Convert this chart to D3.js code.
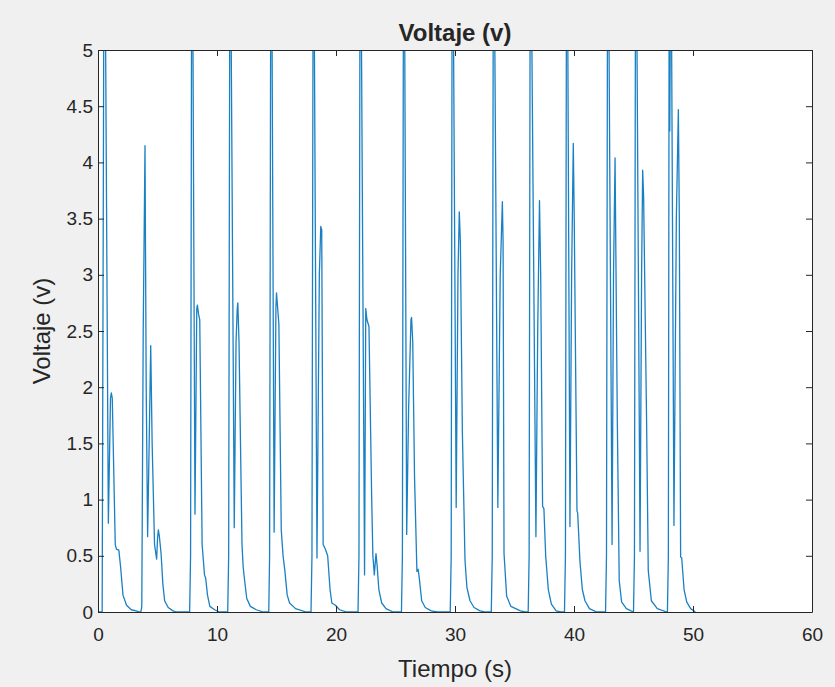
<!DOCTYPE html>
<html>
<head>
<meta charset="utf-8">
<script src="https://cdn.jsdelivr.net/npm/d3@7/dist/d3.min.js"></script>
<style>
  html, body { margin: 0; padding: 0; background: #f0f0f0; }
  svg { display: block; }
  text { font-family: "Liberation Sans", Arial, Helvetica, sans-serif; fill: #262626; }
</style>
</head>
<body>
<svg id="chart" width="835" height="687"></svg>
<script>
// ---- Data (time in s, voltage in v) ----
const pulse1  = [[0,0],[0.35,0],[0.5,5.8],[0.6,5.8],[0.87,0.79],[1.05,1.9],[1.12,1.95],[1.2,1.9],[1.45,0.6],[1.55,0.56],[1.75,0.55],[1.9,0.4],[2.1,0.15],[2.4,0.06],[2.8,0.02],[3.2,0.01],[3.5,0]];
const pulse2  = [[3.6,0],[3.68,0.05],[3.8,2.5],[3.95,4.15],[4.05,2.0],[4.17,0.67],[4.3,1.5],[4.43,2.37],[4.55,1.5],[4.75,0.6],[4.93,0.47],[5.0,0.65],[5.07,0.73],[5.15,0.68],[5.3,0.52],[5.45,0.25],[5.6,0.1],[5.9,0.04],[6.3,0.01],[6.6,0]];
const pulse3  = [[7.7,0],[7.78,0.5],[7.87,5.8],[7.95,5.8],[8.15,0.87],[8.3,2.7],[8.35,2.73],[8.45,2.65],[8.55,2.6],[8.75,0.6],[8.95,0.33],[9.05,0.3],[9.2,0.15],[9.4,0.05],[9.8,0.02],[10.2,0]];
const pulse4  = [[10.9,0],[10.98,0.5],[11.08,5.8],[11.15,5.8],[11.45,0.75],[11.6,2.4],[11.7,2.7],[11.75,2.75],[11.85,2.4],[12.1,0.6],[12.2,0.4],[12.3,0.3],[12.5,0.12],[12.8,0.05],[13.3,0.02],[13.9,0]];
const pulse5  = [[14.35,0],[14.42,0.5],[14.52,5.8],[14.6,5.8],[14.8,0.71],[14.95,2.7],[15.0,2.84],[15.1,2.7],[15.2,2.56],[15.4,0.73],[15.55,0.5],[15.7,0.37],[15.9,0.15],[16.1,0.08],[16.6,0.03],[17.5,0]];
const pulse6  = [[17.9,0],[17.98,0.5],[18.08,5.8],[18.15,5.8],[18.4,0.48],[18.6,3.0],[18.72,3.43],[18.8,3.4],[18.92,0.6],[19.1,0.56],[19.3,0.5],[19.5,0.2],[19.65,0.08],[19.95,0.06],[20.3,0.02],[20.9,0]];
const pulse7  = [[21.85,0],[21.93,0.5],[22.02,5.8],[22.1,5.8],[22.4,0.33],[22.5,2.7],[22.6,2.6],[22.77,2.54],[23.0,1.0],[23.1,0.5],[23.22,0.33],[23.36,0.52],[23.45,0.42],[23.6,0.2],[23.84,0.08],[24.2,0.03],[24.8,0]];
const pulse8  = [[25.5,0],[25.58,0.5],[25.67,5.8],[25.75,5.8],[25.94,0.69],[26.1,1.8],[26.3,2.6],[26.35,2.62],[26.45,2.4],[26.6,1.2],[26.8,0.36],[26.9,0.38],[27.0,0.3],[27.2,0.1],[27.5,0.04],[28.0,0.01],[28.5,0]];
const pulse9  = [[29.6,0],[29.68,0.5],[29.76,5.8],[29.84,5.8],[30.1,0.93],[30.25,3.0],[30.36,3.56],[30.45,3.3],[30.62,1.6],[30.84,0.46],[31.0,0.22],[31.26,0.1],[31.6,0.04],[32.1,0.01],[32.5,0]];
const pulse10 = [[33.05,0],[33.13,0.5],[33.22,5.8],[33.3,5.8],[33.6,0.93],[33.8,3.0],[33.98,3.65],[34.04,3.3],[34.12,0.52],[34.34,0.14],[34.7,0.05],[35.5,0.01],[35.9,0]];
const pulse11 = [[36.15,0],[36.23,0.5],[36.32,5.8],[36.4,5.8],[36.8,0.67],[36.95,2.5],[37.1,3.66],[37.2,3.0],[37.36,0.94],[37.47,0.92],[37.62,0.5],[37.84,0.2],[38.1,0.07],[38.5,0.01],[38.9,0]];
const pulse12 = [[39.2,0],[39.28,0.5],[39.37,5.8],[39.45,5.8],[39.66,0.76],[39.8,3.0],[39.94,4.17],[40.02,3.5],[40.25,0.9],[40.31,0.88],[40.5,0.45],[40.7,0.2],[40.92,0.1],[41.3,0.03],[41.9,0]];
const pulse13 = [[42.65,0],[42.73,0.5],[42.82,5.8],[42.9,5.8],[43.2,0.6],[43.32,3.0],[43.45,4.04],[43.55,2.8],[43.64,1.7],[43.8,0.28],[44.0,0.09],[44.4,0.03],[45.0,0]];
const pulse14 = [[45.0,0],[45.08,0.5],[45.17,5.8],[45.25,5.8],[45.55,0.54],[45.68,3.0],[45.77,3.93],[45.85,3.7],[46.1,1.7],[46.24,0.37],[46.5,0.1],[47.0,0.03],[47.8,0]];
const pulse15 = [[47.85,0],[47.93,0.5],[48.0,5.8],[48.05,4.28],[48.12,5.8],[48.17,5.8],[48.4,0.77],[48.6,3.5],[48.77,4.47],[48.85,3.5],[48.96,0.49],[49.05,0.48],[49.25,0.2],[49.47,0.09],[49.8,0.03],[50.2,0]];

const xTicks = [0, 10, 20, 30, 40, 50, 60];
const yTicks = [0, 0.5, 1, 1.5, 2, 2.5, 3, 3.5, 4, 4.5, 5];
const titleText = "Voltaje (v)";
const xLabelText = "Tiempo (s)";
const yLabelText = "Voltaje (v)";

const signal = [].concat(pulse1, pulse2, pulse3, pulse4, pulse5, pulse6, pulse7, pulse8,
                         pulse9, pulse10, pulse11, pulse12, pulse13, pulse14, pulse15);

// ---- Layout ----
const W = 835, H = 687;
const L = 98, R = 812, T = 50, B = 612;
const ink = "#262626";
const tickLen = 6;

const svg = d3.select("#chart");
svg.append("rect").attr("width", W).attr("height", H).attr("fill", "#f0f0f0");

const x = d3.scaleLinear().domain([0, 60]).range([L, R]);
const y = d3.scaleLinear().domain([0, 5]).range([B, T]);

svg.append("rect").attr("x", L).attr("y", T).attr("width", R - L).attr("height", B - T).attr("fill", "#ffffff");

svg.append("defs").append("clipPath").attr("id", "clip")
  .append("rect").attr("x", L).attr("y", T).attr("width", R - L).attr("height", B - T);

// Line
const line = d3.line().x(d => x(d[0])).y(d => y(d[1]));
svg.append("path")
  .datum(signal)
  .attr("clip-path", "url(#clip)")
  .attr("fill", "none")
  .attr("stroke", "#0072BD")
  .attr("stroke-width", 1.3)
  .attr("stroke-opacity", 0.9)
  .attr("stroke-linejoin", "round")
  .attr("d", line);

// Axes (MATLAB style: inward ticks, box)
const fontTick = 19;
const xAxis = d3.axisBottom(x).tickValues(xTicks).tickSizeInner(-tickLen).tickSizeOuter(0).tickPadding(16).tickFormat(d3.format("d"));
const gx = svg.append("g").attr("transform", `translate(0,${B})`).call(xAxis);
const xTop = d3.axisTop(x).tickValues(xTicks).tickSizeInner(-tickLen).tickSizeOuter(0).tickFormat("");
const gxt = svg.append("g").attr("transform", `translate(0,${T})`).call(xTop);

const yAxis = d3.axisLeft(y).tickValues(yTicks).tickSizeInner(-tickLen).tickSizeOuter(0).tickPadding(5).tickFormat(d => String(d));
const gy = svg.append("g").attr("transform", `translate(${L},0)`).call(yAxis);
const yRight = d3.axisRight(y).tickValues(yTicks).tickSizeInner(-tickLen).tickSizeOuter(0).tickFormat("");
const gyr = svg.append("g").attr("transform", `translate(${R},0)`).call(yRight);

[gx, gxt, gy, gyr].forEach(g => {
  g.selectAll(".domain").attr("stroke", ink).attr("stroke-width", 1);
  g.selectAll(".tick line").attr("stroke", ink).attr("stroke-width", 1);
  g.selectAll(".tick text").attr("fill", ink).style("font-size", fontTick + "px")
    .style("font-family", '"Liberation Sans", Arial, sans-serif');
});

// Title and axis labels
svg.append("text").attr("x", (L + R) / 2).attr("y", 41).attr("text-anchor", "middle")
  .style("font-size", "24px").style("font-weight", "bold").text(titleText);
svg.append("text").attr("x", (L + R) / 2).attr("y", 677).attr("text-anchor", "middle")
  .style("font-size", "24px").text(xLabelText);
svg.append("text").attr("transform", `translate(50,${(T + B) / 2}) rotate(-90)`).attr("text-anchor", "middle")
  .style("font-size", "24px").text(yLabelText);
</script>
</body>
</html>
